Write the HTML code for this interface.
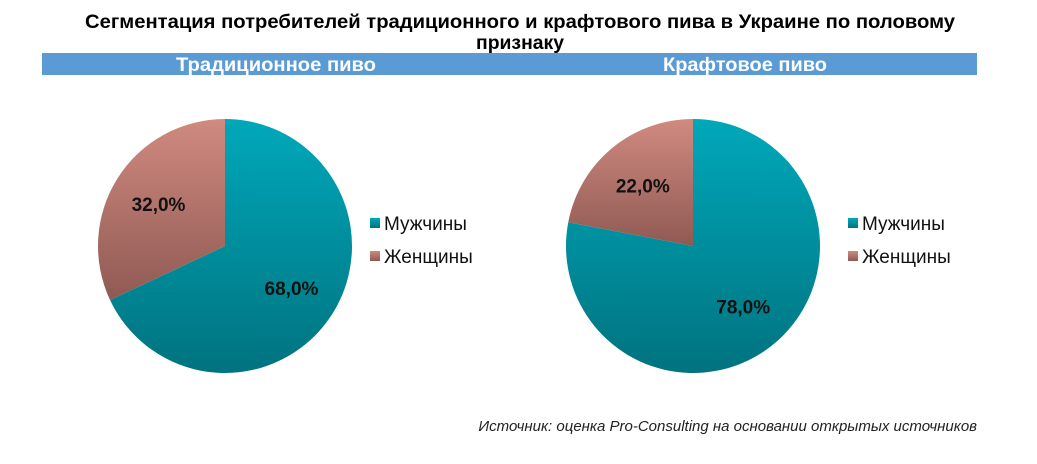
<!DOCTYPE html>
<html><head><meta charset="utf-8"><style>
html,body{margin:0;padding:0;background:#fff;}
svg{display:block;font-family:"Liberation Sans",sans-serif;}
</style></head><body>
<svg id="chart" width="1037" height="464" viewBox="0 0 1037 464">
<defs>
<linearGradient id="gM" x1="0" y1="0" x2="0" y2="1"><stop offset="0" stop-color="#00a8ba"/><stop offset="1" stop-color="#00737f"/></linearGradient>
<linearGradient id="gF" x1="0" y1="0" x2="0" y2="1"><stop offset="0" stop-color="#d08a80"/><stop offset="1" stop-color="#8f5a53"/></linearGradient>
</defs>
<text x="520" y="28" text-anchor="middle" font-size="19" font-weight="bold" textLength="870" lengthAdjust="spacingAndGlyphs">Сегментация потребителей традиционного и крафтового пива в Украине по половому</text>
<text x="520" y="49" text-anchor="middle" font-size="19" font-weight="bold" textLength="88" lengthAdjust="spacingAndGlyphs">признаку</text>
<rect x="42" y="53" width="935" height="22" fill="#5b9bd5"/>
<text x="276" y="71" text-anchor="middle" font-size="19" font-weight="bold" fill="#fff" textLength="200" lengthAdjust="spacingAndGlyphs">Традиционное пиво</text>
<text x="745" y="71" text-anchor="middle" font-size="19" font-weight="bold" fill="#fff" textLength="164" lengthAdjust="spacingAndGlyphs">Крафтовое пиво</text>
<g id="pies"></g>
<text x="977" y="431" text-anchor="end" font-size="15" font-style="italic" fill="#222">Источник: оценка Pro-Consulting на основании открытых источников</text>
</svg>
<script>
const categories = ["Мужчины", "Женщины"];
const traditionalValues = [68, 32];
const craftValues = [78, 22];
const valueLabels1 = ["68,0%", "32,0%"];
const valueLabels2 = ["78,0%", "22,0%"];
const NS = "http://www.w3.org/2000/svg";
const g = document.getElementById('pies');
const fills = ["url(#gM)", "url(#gF)"];
function mk(tag, attrs){const e=document.createElementNS(NS,tag);for(const k in attrs)e.setAttribute(k,attrs[k]);return e;}
function drawPie(cx, cy, r, values, labels, lx, key){
  const total = values.reduce((a,b)=>a+b,0);
  let a0 = 0;
  values.forEach((v,i)=>{
    const a1 = a0 + v/total*2*Math.PI;
    const p = (a)=>[cx + r*Math.sin(a), cy - r*Math.cos(a)];
    const [x0,y0]=p(a0),[x1,y1]=p(a1);
    const large = (a1-a0)>Math.PI?1:0;
    const path = mk('path',{d:`M${cx},${cy} L${x0},${y0} A${r},${r} 0 ${large} 1 ${x1},${y1} Z`,fill:fills[i]});
    
    
    g.appendChild(path);
    const am=(a0+a1)/2, lr=r*0.62;
    const t = mk('text',{x:cx+lr*Math.sin(am), y:cy-lr*Math.cos(am)+7, 'text-anchor':'middle','font-size':'19','font-weight':'bold',fill:'#111'});
    t.textContent = labels[i];
    
    
    g.appendChild(t);
    a0 = a1;
  });
  categories.forEach((c,i)=>{
    const sq = mk('rect',{x:lx, y:218+i*33, width:10, height:10, fill:fills[i]});
    
    
    g.appendChild(sq);
    const t = mk('text',{x:lx+14, y:230+i*33,'font-size':'19',fill:'#111'});
    t.textContent = c;
    
    
    g.appendChild(t);
  });
}
drawPie(225, 246, 127, traditionalValues, valueLabels1, 370, 'traditional');
drawPie(693, 246, 127, craftValues, valueLabels2, 848, 'craft');
</script>
</body></html>
